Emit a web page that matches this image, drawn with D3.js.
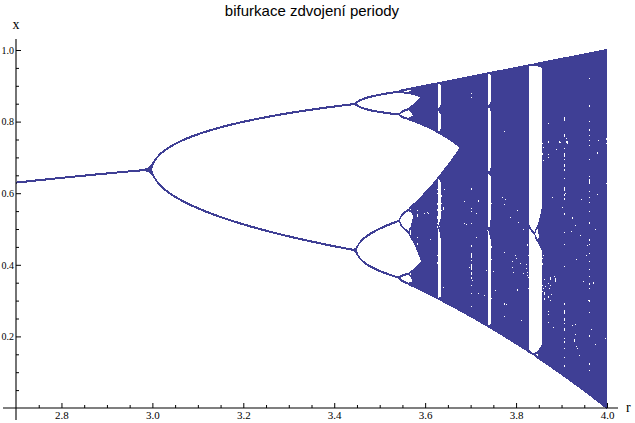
<!DOCTYPE html>
<html>
<head>
<meta charset="utf-8">
<script src="https://cdn.jsdelivr.net/npm/d3@7/dist/d3.min.js"></script>
<style>
  html, body { margin: 0; padding: 0; background: #fff; }
  svg { display: block; }
</style>
</head>
<body>
<svg id="chart" width="635" height="423"></svg>
<script>
// ---- data / parameters ----
const titleText = "bifurkace zdvojení periody";
const xLabel = "r";
const yLabel = "x";
const rDomain = [2.7, 4.0];          // logistic-map parameter range
const xDomain = [0, 1];              // state range
const xMajorTicks = [2.8, 3.0, 3.2, 3.4, 3.6, 3.8, 4.0];
const xMinorTicks = [2.75, 2.85, 2.9, 2.95, 3.05, 3.1, 3.15, 3.25, 3.3, 3.35, 3.45, 3.5, 3.55, 3.65, 3.7, 3.75, 3.85, 3.9, 3.95];
const yMajorTicks = [0.2, 0.4, 0.6, 0.8, 1.0];
const yMinorTicks = [0.05, 0.1, 0.15, 0.25, 0.3, 0.35, 0.45, 0.5, 0.55, 0.65, 0.7, 0.75, 0.85, 0.9, 0.95];
// orbit sampling of the logistic map x -> r x (1 - x)
const startValue = [0.3];
const transientSteps = [200];
const keptSteps = [500];
const samplesPerPixel = [3];

const color = "#3f3f95";
const W = 635, H = 423;
const svg = d3.select("#chart");

const xs = d3.scaleLinear().domain(rDomain).range([16, 607]);
const ys = d3.scaleLinear().domain(xDomain).range([408, 50]);

// ---- compute orbit points, rasterised to vertical runs per pixel column ----
const x0px = Math.round(xs(rDomain[0])), x1px = Math.round(xs(rDomain[1]));
let pathStr = "";
for (let px = x0px; px < x1px; px++) {
  const occ = new Uint8Array(H + 2);
  for (let s = 0; s < samplesPerPixel[0]; s++) {
    let r = xs.invert(px + (s + 0.5) / samplesPerPixel[0]);
    if (r > rDomain[1]) r = rDomain[1];
    let v = startValue[0];
    for (let i = 0; i < transientSteps[0]; i++) v = r * v * (1 - v);
    for (let i = 0; i < keptSteps[0]; i++) {
      v = r * v * (1 - v);
      const py = Math.round(ys(v));
      if (py >= 1 && py < H) { occ[py] = 1; occ[py - 1] = 1; }
    }
  }
  let y = 0;
  while (y < H) {
    if (occ[y]) {
      let y2 = y;
      while (y2 < H && occ[y2]) y2++;
      pathStr += `M${px},${y}h1v${y2 - y}h-1Z`;
      y = y2;
    } else y++;
  }
}
svg.append("path")
  .attr("d", pathStr)
  .attr("fill", color)
  .attr("shape-rendering", "crispEdges");

// ---- axes ----
const axisY = ys(0), axisX = xs(rDomain[0]);
svg.append("line").attr("x1", 3).attr("x2", 618).attr("y1", axisY).attr("y2", axisY)
  .attr("stroke", "#000").attr("stroke-width", 1.1);
svg.append("line").attr("x1", axisX).attr("x2", axisX).attr("y1", 39).attr("y2", 420)
  .attr("stroke", "#000").attr("stroke-width", 1.1);

const xAxis = svg.append("g").attr("transform", `translate(0,${axisY})`)
  .call(d3.axisBottom(xs).tickValues(xMajorTicks).tickFormat(d3.format(".1f"))
    .tickSizeInner(-5).tickSizeOuter(0).tickPadding(3));
xAxis.select(".domain").remove();
const xAxisMinor = svg.append("g").attr("transform", `translate(0,${axisY})`)
  .call(d3.axisBottom(xs).tickValues(xMinorTicks).tickFormat("")
    .tickSizeInner(-3).tickSizeOuter(0));
xAxisMinor.select(".domain").remove();

const yAxis = svg.append("g").attr("transform", `translate(${axisX},0)`)
  .call(d3.axisLeft(ys).tickValues(yMajorTicks).tickFormat(d3.format(".1f"))
    .tickSizeInner(-5).tickSizeOuter(0).tickPadding(2));
yAxis.select(".domain").remove();
const yAxisMinor = svg.append("g").attr("transform", `translate(${axisX},0)`)
  .call(d3.axisLeft(ys).tickValues(yMinorTicks).tickFormat("")
    .tickSizeInner(-3).tickSizeOuter(0));
yAxisMinor.select(".domain").remove();

svg.selectAll(".tick text")
  .attr("font-family", "'Liberation Serif', 'Times New Roman', serif")
  .attr("font-size", 11)
  .attr("fill", "#000");
yAxis.selectAll(".tick text").attr("font-size", 10);
svg.selectAll(".tick line").attr("stroke", "#000");

// axis labels
svg.append("text").attr("x", axisX).attr("y", 29).attr("text-anchor", "middle")
  .attr("font-family", "'Liberation Serif', 'Times New Roman', serif").attr("font-size", 14)
  .text(yLabel);
svg.append("text").attr("x", 626).attr("y", axisY + 4)
  .attr("font-family", "'Liberation Serif', 'Times New Roman', serif").attr("font-size", 14)
  .text(xLabel);

// title
svg.append("text").attr("x", 312).attr("y", 16).attr("text-anchor", "middle")
  .attr("font-family", "'Liberation Sans', Arial, Helvetica, sans-serif").attr("font-size", 15)
  .text(titleText);
</script>
</body>
</html>
